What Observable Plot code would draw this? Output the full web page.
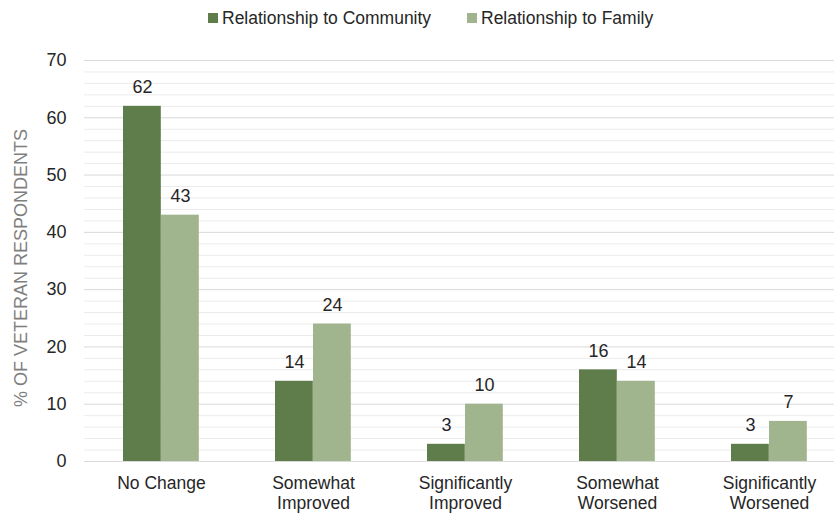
<!DOCTYPE html>
<html><head><meta charset="utf-8">
<script src="https://cdn.jsdelivr.net/npm/d3@7"></script>
<script src="https://cdn.jsdelivr.net/npm/@observablehq/plot@0.6"></script>
<style>
body{margin:0;background:#fff;font-family:"Liberation Sans",Arial,sans-serif;}
#legend{height:36px;position:relative;font-size:17.5px;color:#262626;}
.item{position:absolute;top:0;height:36px;display:flex;align-items:center;}
.sw{width:10px;height:10px;margin-right:4px;}
</style></head><body>
<div id="legend"></div><div id="chart"></div>
<script>
const categories = ["No Change","Somewhat\nImproved","Significantly\nImproved","Somewhat\nWorsened","Significantly\nWorsened"];
const community = [62, 14, 3, 16, 3];
const family = [43, 24, 10, 14, 7];
const seriesNames = ["Relationship to Community", "Relationship to Family"];
const seriesColors = ["#5f7c4b", "#a0b58e"];
const yTicks = [0, 10, 20, 30, 40, 50, 60, 70];
const yMinorTicks = d3.range(0, 71, 2).filter(v => v % 10 !== 0);
const yTitle = "% OF VETERAN RESPONDENTS";

// legend
const legend = document.getElementById("legend");
const legendLeft = [208, 467];
seriesNames.forEach((n, i) => {
  const it = document.createElement("div");
  it.className = "item";
  it.style.left = legendLeft[i] + "px";
  it.innerHTML = `<span class="sw" style="background:${seriesColors[i]}"></span><span>${n}</span>`;
  legend.appendChild(it);
});

const commRows = categories.map((c, i) => ({category: c, value: community[i]}));
const famRows = categories.map((c, i) => ({category: c, value: family[i]}));

const chart = Plot.plot({
  width: 834,
  height: 477,
  marginLeft: 84,
  marginRight: 0,
  marginTop: 24,
  marginBottom: 52,
  style: {fontFamily: '"Liberation Sans", Arial, sans-serif', fontSize: "17.5px", color: "#262626", background: "#fff"},
  x: {domain: categories, range: [84, 845], padding: 0, axis: null},
  y: {domain: [0, 70], axis: null},
  marks: [
    Plot.gridY(yMinorTicks, {stroke: "#ebebeb", strokeOpacity: 1}),
    Plot.gridY(yTicks, {stroke: "#d9d9d9", strokeOpacity: 1}),
    Plot.barY(commRows, {x: "category", y: "value", fill: seriesColors[0], insetLeft: 38, insetRight: 76.2}),
    Plot.barY(famRows, {x: "category", y: "value", fill: seriesColors[1], insetLeft: 76, insetRight: 38.2}),
    Plot.text(commRows, {x: "category", y: "value", text: d => String(d.value), dx: -19, dy: -13, lineAnchor: "bottom", fill: "#262626", fontSize: 18}),
    Plot.text(famRows, {x: "category", y: "value", text: d => String(d.value), dx: 19, dy: -13, lineAnchor: "bottom", fill: "#262626", fontSize: 18}),
    Plot.axisX({tickSize: 0, tickPadding: 13, fontSize: 17.5, lineHeight: 1.14, fill: "#262626", label: null}),
    Plot.axisY(yTicks, {tickSize: 0, tickPadding: 18, fontSize: 18, fill: "#262626", label: null}),
    Plot.text([yTitle], {frameAnchor: "left", rotate: -90, dx: -63, dy: 7, fill: "#7f7f7f", fontSize: 18, textAnchor: "middle", lineAnchor: "middle"})
  ]
});
document.getElementById("chart").appendChild(chart);
</script>
</body></html>
